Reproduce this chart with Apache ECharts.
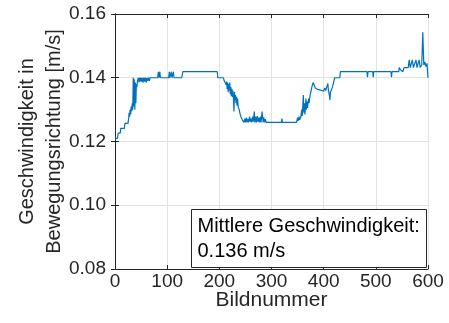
<!DOCTYPE html>
<html>
<head>
<meta charset="utf-8">
<script src="https://cdn.jsdelivr.net/npm/echarts@6/dist/echarts.min.js"></script>
<style>
  html, body { margin: 0; padding: 0; background: #fff; }
  #chart { width: 449px; height: 323px; }
</style>
</head>
<body>
<div id="chart"></div>
<script>
// Bildnummer (x) und Geschwindigkeit [m/s] (y)
const frames = [
  0, 5, 6, 10, 11, 18, 19, 25, 26, 27, 28, 29, 30, 31, 32, 33, 34, 35, 36, 37, 38, 39, 40, 41, 42, 43, 44, 45, 46, 47,
  48, 49, 51, 52, 54, 55, 57, 58, 60, 61, 63, 64, 66, 67, 82, 83, 84, 86, 87, 103, 104, 105, 108, 109, 112, 113, 128, 130,
  196, 197, 208, 209, 211, 213, 214, 215, 216, 217, 218, 219, 220, 221, 222, 223, 224, 225, 226, 227, 228, 229, 230,
  231, 232, 233, 234, 235, 236, 238, 240, 242, 244, 246, 247, 249, 250, 252, 253, 255, 256, 258, 259, 261, 262, 264,
  265, 267, 268, 270, 271, 273, 274, 276, 277, 279, 280, 282, 284, 285, 287, 288, 290, 293,
  319, 320, 321, 348, 350, 351, 353, 354, 356, 358, 359, 361, 362, 363, 364, 366, 367, 368, 369, 371, 372, 374, 376,
  378, 380, 382, 384, 386, 388, 390, 392, 394, 396, 398, 400, 402, 404, 406, 408, 409, 411, 412, 413, 415, 417, 419,
  421, 431, 432, 483, 484, 485, 494, 495, 496, 529, 530, 531, 544, 545, 547, 549, 552, 554, 562, 564, 566, 570, 572,
  577, 579, 583, 585, 588, 590, 592, 594, 596, 598, 600
];
const speed = [
  0.1210, 0.1210, 0.1226, 0.1226, 0.1241, 0.1241, 0.1257, 0.1257, 0.1270, 0.1290, 0.1278, 0.1300, 0.1285, 0.1310, 0.1295, 0.1320, 0.1300, 0.1400, 0.1310, 0.1395, 0.1300, 0.1385, 0.1320, 0.1380, 0.1370, 0.1390, 0.1385, 0.1400, 0.1385, 0.1400,
  0.1388, 0.1400, 0.1388, 0.1400, 0.1385, 0.1400, 0.1388, 0.1400, 0.1385, 0.1400, 0.1390, 0.1400, 0.1390, 0.1400, 0.1400, 0.1419, 0.1400, 0.1419, 0.1400, 0.1400, 0.1419, 0.1400, 0.1419, 0.1400, 0.1419, 0.1400, 0.1400, 0.1419,
  0.1419, 0.1400, 0.1400, 0.1392, 0.1385, 0.1378, 0.1388, 0.1365, 0.1385, 0.1355, 0.1380, 0.1360, 0.1385, 0.1348, 0.1372, 0.1342, 0.1365, 0.1340, 0.1360, 0.1335, 0.1294, 0.1355, 0.1330,
  0.1346, 0.1320, 0.1340, 0.1312, 0.1335, 0.1310, 0.1300, 0.1285, 0.1275, 0.1268, 0.1262, 0.1260, 0.1272, 0.1260, 0.1275, 0.1260, 0.1270, 0.1260, 0.1278, 0.1262, 0.1272, 0.1260, 0.1278,
  0.1262, 0.1294, 0.1260, 0.1278, 0.1260, 0.1280, 0.1262, 0.1275, 0.1260, 0.1278, 0.1260, 0.1294, 0.1260, 0.1276, 0.1260, 0.1270, 0.1260, 0.1260,
  0.1260, 0.1272, 0.1260, 0.1260, 0.1275, 0.1265, 0.1278, 0.1268, 0.1275, 0.1300, 0.1280, 0.1346, 0.1290, 0.1320, 0.1285, 0.1335, 0.1300, 0.1325, 0.1305, 0.1335, 0.1320, 0.1345, 0.1360,
  0.1375, 0.1385, 0.1380, 0.1368, 0.1366, 0.1364, 0.1368, 0.1362, 0.1368, 0.1360, 0.1366, 0.1358, 0.1368, 0.1360, 0.1372, 0.1382, 0.1362, 0.1345, 0.1330, 0.1355, 0.1362, 0.1372, 0.1385,
  0.1400, 0.1400, 0.1419, 0.1419, 0.1402, 0.1419, 0.1419, 0.1402, 0.1419, 0.1419, 0.1402, 0.1419, 0.1419, 0.1432, 0.1425, 0.1419, 0.1419, 0.1432, 0.1432, 0.1456, 0.1432, 0.1456, 0.1432,
  0.1456, 0.1432, 0.1456, 0.1432, 0.1440, 0.1543, 0.1440, 0.1450, 0.1435, 0.1445, 0.1400
];
const xTicks = [0, 600, 100];     // min, max, Abstand
const yTicks = [0.08, 0.16, 0.02];
const noteLines = ['Mittlere Geschwindigkeit:', '0.136 m/s'];

const font = '"Liberation Sans", Arial, sans-serif';
const ink = '#262626';

const chart = echarts.init(document.getElementById('chart'));

const xBase = {
  type: 'value', min: xTicks[0], max: xTicks[1], interval: xTicks[2],
  axisLine: { lineStyle: { color: ink, width: 1 } },
  axisTick: { inside: true, length: 4, lineStyle: { color: ink } }
};
const yBase = {
  type: 'value', min: yTicks[0], max: yTicks[1], interval: yTicks[2],
  axisLine: { show: true, lineStyle: { color: ink, width: 1 } },
  axisTick: { show: true, inside: true, length: 4, lineStyle: { color: ink } }
};

chart.setOption({
  animation: false,
  backgroundColor: '#fff',
  grid: { left: 115, right: 21, top: 14, bottom: 54, outerBoundsMode: 'none' },
  xAxis: [
    Object.assign({}, xBase, {
      position: 'bottom',
      name: 'Bildnummer', nameLocation: 'middle', nameGap: 21, nameMoveOverlap: false,
      nameTextStyle: { fontFamily: font, fontSize: 21, color: ink },
      axisLabel: { fontFamily: font, fontSize: 19, color: ink, margin: 3 },
      splitLine: { show: true, lineStyle: { color: '#e3e3e3', width: 1 } }
    }),
    Object.assign({}, xBase, {
      position: 'top',
      axisLabel: { show: false },
      splitLine: { show: false }
    })
  ],
  yAxis: [
    Object.assign({}, yBase, {
      position: 'left',
      name: 'Geschwindigkeit in\nBewegungsrichtung [m/s]', nameLocation: 'middle', nameGap: 47, nameMoveOverlap: false,
      nameTextStyle: { fontFamily: font, fontSize: 20, color: ink, lineHeight: 27 },
      axisLabel: { fontFamily: font, fontSize: 19, color: ink, margin: 9, formatter: v => v.toFixed(2) },
      splitLine: { show: true, lineStyle: { color: '#e3e3e3', width: 1 } }
    }),
    Object.assign({}, yBase, {
      position: 'right',
      axisLabel: { show: false },
      splitLine: { show: false }
    })
  ],
  series: [{
    type: 'line',
    data: frames.map((f, i) => [f, speed[i]]),
    showSymbol: false,
    lineStyle: { color: '#0072BD', width: 1.2 },
    itemStyle: { color: '#0072BD' }
  }],
  graphic: [{
    type: 'group',
    left: 191, top: 209,
    z: 100,
    children: [
      { type: 'rect', z: 100, shape: { x: 0, y: 0, width: 235, height: 58 },
        style: { fill: '#fff', stroke: ink, lineWidth: 1 } },
      { type: 'text', z: 101, x: 6, y: 7,
        style: { text: noteLines[0], font: '20px ' + font, fill: '#000' } },
      { type: 'text', z: 101, x: 6, y: 32,
        style: { text: noteLines[1], font: '20px ' + font, fill: '#000' } }
    ]
  }]
});
</script>
</body>
</html>
